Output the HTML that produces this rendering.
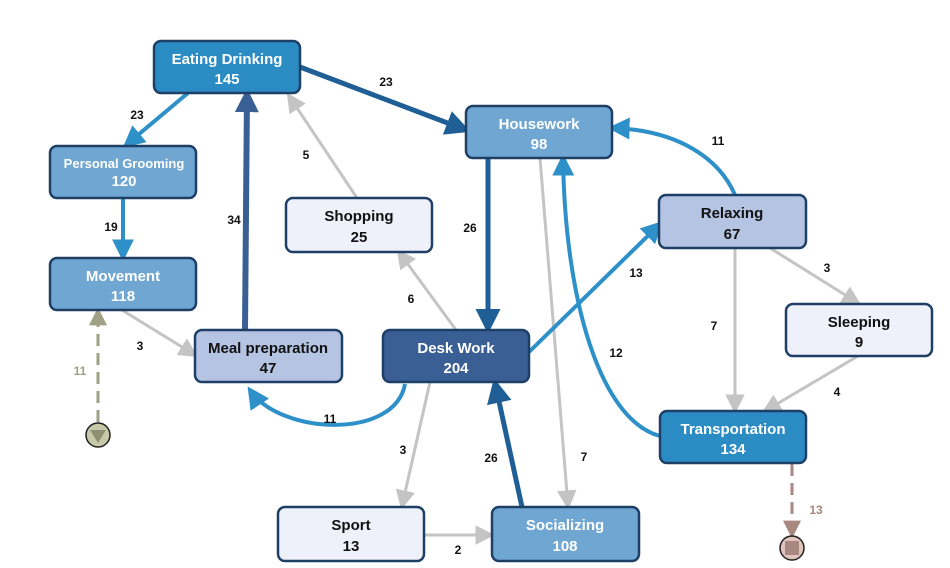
<!DOCTYPE html>
<html><head><meta charset="utf-8"><style>
html,body{margin:0;padding:0;background:#fff;}
svg{display:block;font-family:"Liberation Sans",Arial,sans-serif;font-weight:bold;}
</style></head><body>
<svg width="950" height="568" viewBox="0 0 950 568" xmlns="http://www.w3.org/2000/svg">
<defs>
<marker id="mD" markerWidth="5" markerHeight="5" refX="4" refY="2.5" orient="auto" markerUnits="strokeWidth"><path d="M0,0 L5,2.5 L0,5 Z" fill="#1f5f96"/></marker>
<marker id="mB" markerWidth="5.5" markerHeight="5.5" refX="4.4" refY="2.75" orient="auto" markerUnits="strokeWidth"><path d="M0,0 L5.5,2.75 L0,5.5 Z" fill="#2e90c8"/></marker>
<marker id="mS" markerWidth="4" markerHeight="4" refX="3.2" refY="2" orient="auto" markerUnits="strokeWidth"><path d="M0,0 L4,2 L0,4 Z" fill="#3a5f94"/></marker>
<marker id="mG" markerWidth="6.5" markerHeight="6.5" refX="5.2" refY="3.25" orient="auto" markerUnits="strokeWidth"><path d="M0,0 L6.5,3.25 L0,6.5 Z" fill="#c4c4c4"/></marker>
<marker id="mO" markerWidth="6" markerHeight="6" refX="4.8" refY="3" orient="auto" markerUnits="strokeWidth"><path d="M0,0 L6,3 L0,6 Z" fill="#9ea184"/></marker>
<marker id="mR" markerWidth="6" markerHeight="6" refX="4.8" refY="3" orient="auto" markerUnits="strokeWidth"><path d="M0,0 L6,3 L0,6 Z" fill="#a88880"/></marker>
</defs>
<g fill="none" stroke-linecap="butt">
<line x1="300" y1="67" x2="466" y2="130" stroke="#1f5f96" stroke-width="5" marker-end="url(#mD)"/>
<line x1="188" y1="93" x2="126" y2="145" stroke="#2e90c8" stroke-width="4" marker-end="url(#mB)"/>
<line x1="123" y1="198" x2="123" y2="257" stroke="#2e90c8" stroke-width="4" marker-end="url(#mB)"/>
<line x1="245" y1="330" x2="247" y2="93" stroke="#3a5f94" stroke-width="6" marker-end="url(#mS)"/>
<line x1="357" y1="198" x2="289" y2="96" stroke="#c4c4c4" stroke-width="3" marker-end="url(#mG)"/>
<line x1="456" y1="330" x2="399" y2="252" stroke="#c4c4c4" stroke-width="3" marker-end="url(#mG)"/>
<line x1="488" y1="158" x2="488" y2="329" stroke="#1f5f96" stroke-width="5" marker-end="url(#mD)"/>
<line x1="540" y1="158" x2="568" y2="506" stroke="#c4c4c4" stroke-width="3" marker-end="url(#mG)"/>
<line x1="529" y1="352" x2="660" y2="224" stroke="#2e90c8" stroke-width="4" marker-end="url(#mB)"/>
<path d="M735,195 C720,160 680,130 612,128" stroke="#2e90c8" stroke-width="4" marker-end="url(#mB)"/>
<path d="M660,436 C600,420 565,300 563,158" stroke="#2e90c8" stroke-width="4" marker-end="url(#mB)"/>
<line x1="770" y1="248" x2="858" y2="303" stroke="#c4c4c4" stroke-width="3" marker-end="url(#mG)"/>
<line x1="735" y1="248" x2="735" y2="410" stroke="#c4c4c4" stroke-width="3" marker-end="url(#mG)"/>
<line x1="858" y1="356" x2="765" y2="411" stroke="#c4c4c4" stroke-width="3" marker-end="url(#mG)"/>
<line x1="122" y1="310" x2="195" y2="355" stroke="#c4c4c4" stroke-width="3" marker-end="url(#mG)"/>
<path d="M405,384 C395,440 280,435 250,390" stroke="#2e90c8" stroke-width="4" marker-end="url(#mB)"/>
<line x1="430" y1="382" x2="402" y2="506" stroke="#c4c4c4" stroke-width="3" marker-end="url(#mG)"/>
<line x1="424" y1="535" x2="491" y2="535" stroke="#c4c4c4" stroke-width="3" marker-end="url(#mG)"/>
<line x1="522" y1="507" x2="495" y2="383" stroke="#1f5f96" stroke-width="5" marker-end="url(#mD)"/>
<line x1="98" y1="422" x2="98" y2="311" stroke="#9ea184" stroke-width="3" stroke-dasharray="12,7" marker-end="url(#mO)"/>
<line x1="792" y1="464" x2="792" y2="535" stroke="#a88880" stroke-width="3" stroke-dasharray="12,7" marker-end="url(#mR)"/>
</g>
<circle cx="98" cy="435" r="12" fill="#c6caa8" stroke="#222" stroke-width="1.5"/>
<path d="M90,430 L106,430 L98,443 Z" fill="#8d9073"/>
<circle cx="792" cy="548" r="12" fill="#e2c4bf" stroke="#222" stroke-width="1.5"/>
<rect x="785" y="541" width="14" height="14" fill="#a88880"/>
<g stroke="#1e3f66" stroke-width="2.5" font-size="15" text-anchor="middle">
<rect x="154" y="41" width="146" height="52" rx="7" fill="#2b8cc4"/>
<rect x="50" y="146" width="146" height="52" rx="7" fill="#6fa6d2"/>
<rect x="50" y="258" width="146" height="52" rx="7" fill="#6fa6d2"/>
<rect x="286" y="198" width="146" height="54" rx="7" fill="#eef0fa"/>
<rect x="466" y="106" width="146" height="52" rx="7" fill="#6fa6d2"/>
<rect x="659" y="195" width="147" height="53" rx="7" fill="#b4c4e2"/>
<rect x="786" y="304" width="146" height="52" rx="7" fill="#eef0fa"/>
<rect x="195" y="330" width="147" height="52" rx="7" fill="#b4c4e2"/>
<rect x="383" y="330" width="146" height="52" rx="7" fill="#3a5f94"/>
<rect x="660" y="411" width="146" height="52" rx="7" fill="#2b8cc4"/>
<rect x="278" y="507" width="146" height="54" rx="7" fill="#eef0fa"/>
<rect x="492" y="507" width="147" height="54" rx="7" fill="#6fa6d2"/>
</g>
<g font-size="15" text-anchor="middle" fill="#fff">
<text x="227" y="64">Eating Drinking</text><text x="227" y="84">145</text>
<text x="124" y="168" font-size="13">Personal Grooming</text><text x="124" y="186">120</text>
<text x="123" y="281">Movement</text><text x="123" y="301">118</text>
<text x="539" y="129">Housework</text><text x="539" y="149">98</text>
<text x="456" y="353">Desk Work</text><text x="456" y="373">204</text>
<text x="733" y="434">Transportation</text><text x="733" y="454">134</text>
<text x="565" y="530">Socializing</text><text x="565" y="551">108</text>
</g>
<g font-size="15" text-anchor="middle" fill="#111">
<text x="359" y="221">Shopping</text><text x="359" y="242">25</text>
<text x="732" y="218">Relaxing</text><text x="732" y="239">67</text>
<text x="859" y="327">Sleeping</text><text x="859" y="347">9</text>
<text x="268" y="353">Meal preparation</text><text x="268" y="373">47</text>
<text x="351" y="530">Sport</text><text x="351" y="551">13</text>
</g>
<g font-size="12" text-anchor="middle" fill="#111">
<text x="386" y="86">23</text><text x="137" y="119">23</text><text x="111" y="231">19</text>
<text x="234" y="224">34</text><text x="306" y="159">5</text><text x="470" y="232">26</text>
<text x="718" y="145">11</text><text x="636" y="277">13</text><text x="827" y="272">3</text>
<text x="714" y="330">7</text><text x="616" y="357">12</text><text x="411" y="303">6</text>
<text x="140" y="350">3</text><text x="837" y="396">4</text><text x="330" y="423">11</text>
<text x="403" y="454">3</text><text x="491" y="462">26</text><text x="584" y="461">7</text>
<text x="458" y="554">2</text>
<text x="80" y="375" fill="#9ea184">11</text>
<text x="816" y="514" fill="#a88880">13</text>
</g>
</svg>
</body></html>
